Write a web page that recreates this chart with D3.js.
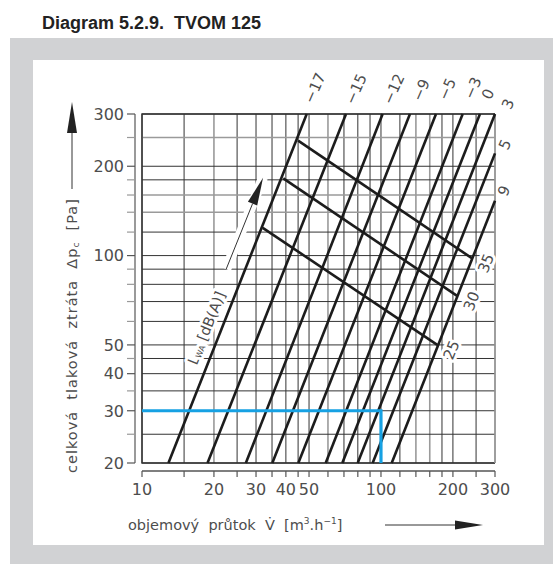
<!DOCTYPE html>
<meta charset="utf-8">
<style>
    body { margin: 0; background: #fff; }
    svg text { font-family: 'DejaVu Sans', sans-serif; fill: #4d4d4d; }
    .title { font-family: 'Liberation Sans', Arial, sans-serif; font-weight: bold; font-size: 18px; fill: #222; white-space: pre; }
    .tick { font-size: 16px; }
    .axisTitle { font-size: 14.5px; white-space: pre; }
    .yTitle { letter-spacing: 1px; }
    .lineLabel { font-size: 15px; }
    .halo { paint-order: stroke; stroke: #fff; stroke-width: 6px; stroke-linejoin: round; }
</style>
<svg width="553" height="564"></svg>
<script src="https://d3js.org/d3.v7.min.js"></script>
<script>

    // grid values and tick labels
    var xGrid = [10, 15, 20, 25, 30, 35, 40, 45, 50, 60, 70, 80, 90, 100, 120, 140, 160, 180, 200, 250, 300];
    var yGrid = [20, 25, 30, 35, 40, 45, 50, 60, 70, 80, 90, 100, 120, 140, 160, 180, 200, 250, 300];
    var xTicks = [10, 20, 30, 40, 50, 100, 200, 300];
    var yTicks = [20, 30, 40, 50, 100, 200, 300];
    var xGray = [20, 60, 140, 160, 300];
    var yGray = [140, 160, 250];

    // damper position lines: start at 20 Pa, end at top or right edge
    var positions = ["−17", "−15", "−12", "−9", "−5", "−3", "0", "3", "5", "9"];
    var posStartV = [12.9, 18.8, 27.2, 35.1, 45.1, 58.7, 68.9, 79.9, 92.3, 110.9];
    var posStartP = [20, 20, 20, 20, 20, 20, 20, 20, 20, 20];
    var posEndV = [48.9, 71.4, 101.6, 132.2, 169.9, 219.7, 259.5, 300, 300, 300];
    var posEndP = [300, 300, 300, 300, 300, 300, 300, 300, 221, 153];

    // sound power level lines L_WA
    var lwa = ["25", "30", "35"];
    var lwaStartV = [32, 39, 45];
    var lwaStartP = [124, 182, 244];
    var lwaEndV = [172, 209, 240];
    var lwaEndP = [50, 73, 98];

    // example operating point
    var opV = 100;
    var opP = 30;

    var svg = d3.select("svg");

    var x = d3.scaleLog().domain([10, 300]).range([142, 495]);
    var y = d3.scaleLog().domain([20, 300]).range([463, 114]);

    // frame
    svg.append("rect").attr("x", 10).attr("y", 38).attr("width", 543).attr("height", 526).attr("fill", "#d1d2d4");
    svg.append("rect").attr("x", 33).attr("y", 60).attr("width", 511).attr("height", 485).attr("fill", "#fff");

    svg.append("text")
        .attr("class", "title")
        .attr("x", 42)
        .attr("y", 29)
        .text("Diagram 5.2.9.  TVOM 125");

    // grid
    var grid = svg.append("g");
    grid.selectAll(".vg").data(xGrid).enter().append("line")
        .attr("x1", function (d) { return x(d); })
        .attr("x2", function (d) { return x(d); })
        .attr("y1", y(20)).attr("y2", y(300))
        .attr("stroke", function (d) { return xGray.indexOf(d) >= 0 ? "#9a9a9a" : "#333"; })
        .attr("stroke-width", function (d) { return xGray.indexOf(d) >= 0 ? 1.6 : 1; });
    grid.selectAll(".hg").data(yGrid).enter().append("line")
        .attr("y1", function (d) { return y(d); })
        .attr("y2", function (d) { return y(d); })
        .attr("x1", x(10)).attr("x2", x(300))
        .attr("stroke", function (d) { return yGray.indexOf(d) >= 0 ? "#9a9a9a" : "#333"; })
        .attr("stroke-width", function (d) { return yGray.indexOf(d) >= 0 ? 1.6 : 1; });

    // plot border
    svg.append("path")
        .attr("d", "M" + x(300) + "," + y(300) + "H" + x(10) + "V" + y(20) + "H" + x(300))
        .attr("fill", "none").attr("stroke", "#333").attr("stroke-width", 1.4);
    svg.append("line")
        .attr("x1", x(300)).attr("x2", x(300)).attr("y1", y(300)).attr("y2", y(20))
        .attr("stroke", "#9a9a9a").attr("stroke-width", 1.6);

    // y axis
    var yAxisX = x(10) - 7;
    svg.append("line")
        .attr("x1", yAxisX).attr("x2", yAxisX).attr("y1", y(300)).attr("y2", y(20))
        .attr("stroke", "#9a9a9a").attr("stroke-width", 2);
    svg.selectAll(".yt").data(yGrid).enter().append("line")
        .attr("x1", yAxisX - 8).attr("x2", yAxisX)
        .attr("y1", function (d) { return y(d); })
        .attr("y2", function (d) { return y(d); })
        .attr("stroke", function (d) { return yTicks.indexOf(d) >= 0 ? "#555" : "#999"; })
        .attr("stroke-width", 1.2);
    svg.selectAll(".ytl").data(yTicks).enter().append("text")
        .attr("class", "tick")
        .attr("x", yAxisX - 11)
        .attr("y", function (d) { return y(d); })
        .attr("dy", "0.36em")
        .attr("text-anchor", "end")
        .text(function (d) { return d; });

    // x axis
    var xAxisY = y(20) + 8;
    svg.append("line")
        .attr("x1", x(10)).attr("x2", x(300)).attr("y1", xAxisY).attr("y2", xAxisY)
        .attr("stroke", "#555").attr("stroke-width", 1.4);
    svg.selectAll(".xt").data(xGrid).enter().append("line")
        .attr("x1", function (d) { return x(d); })
        .attr("x2", function (d) { return x(d); })
        .attr("y1", xAxisY).attr("y2", xAxisY + 6)
        .attr("stroke", "#555").attr("stroke-width", 1.2);
    svg.selectAll(".xtl").data(xTicks).enter().append("text")
        .attr("class", "tick")
        .attr("x", function (d) { return x(d); })
        .attr("y", xAxisY + 24)
        .attr("text-anchor", "middle")
        .text(function (d) { return d; });

    // axis titles with arrows
    var yt = svg.append("text")
        .attr("class", "axisTitle yTitle")
        .attr("transform", "translate(77,473)rotate(-90)");
    yt.append("tspan").text("celková  tlaková  ztráta  Δp");
    yt.append("tspan").attr("font-size", "9px").attr("dy", "2").text("c");
    yt.append("tspan").attr("dy", "-2").text("  [Pa]");

    svg.append("line").attr("x1", 72).attr("x2", 72).attr("y1", 189).attr("y2", 125)
        .attr("stroke", "#333").attr("stroke-width", 1);
    svg.append("path").attr("d", "M72,102L77,133L67,133Z").attr("fill", "#222");

    var xt = svg.append("text")
        .attr("class", "axisTitle")
        .attr("x", 128)
        .attr("y", 530);
    xt.append("tspan").text("objemový  průtok  V̇  [m");
    xt.append("tspan").attr("font-size", "9px").attr("dy", "-6").text("3");
    xt.append("tspan").attr("dy", "6").text(".h");
    xt.append("tspan").attr("font-size", "9px").attr("dy", "-6").text("−1");
    xt.append("tspan").attr("dy", "6").text("]");

    svg.append("line").attr("x1", 385).attr("x2", 460).attr("y1", 525).attr("y2", 525)
        .attr("stroke", "#333").attr("stroke-width", 1);
    svg.append("path").attr("d", "M483,525L455,520.5L455,529.5Z").attr("fill", "#222");

    // L_WA arrow and label (drawn with white halo over the grid)
    var arrowFrom = [22.5, 90], arrowTo = [32.1, 183];
    var ax0 = x(arrowFrom[0]), ay0 = y(arrowFrom[1]), ax1 = x(arrowTo[0]), ay1 = y(arrowTo[1]);
    var ang = Math.atan2(ay1 - ay0, ax1 - ax0);
    var angDeg = ang * 180 / Math.PI;
    var headLen = 28, headW = 5;
    var bx = ax1 - headLen * Math.cos(ang), by = ay1 - headLen * Math.sin(ang);
    svg.append("line").attr("x1", ax0).attr("y1", ay0).attr("x2", ax1).attr("y2", ay1)
        .attr("stroke", "#fff").attr("stroke-width", 10);
    svg.append("line").attr("x1", ax0).attr("y1", ay0).attr("x2", bx).attr("y2", by)
        .attr("stroke", "#333").attr("stroke-width", 1);
    svg.append("path")
        .attr("d", "M" + ax1 + "," + ay1 +
            "L" + (bx + headW * Math.sin(ang)) + "," + (by - headW * Math.cos(ang)) +
            "L" + (bx - headW * Math.sin(ang)) + "," + (by + headW * Math.cos(ang)) + "Z")
        .attr("fill", "#222");

    var lwaLabel = svg.append("text")
        .attr("class", "axisTitle halo")
        .attr("text-anchor", "middle")
        .attr("transform", "translate(" + x(18.6) + "," + y(57) + ")rotate(" + angDeg + ")")
        .attr("dy", "0.35em");
    lwaLabel.append("tspan").text("L");
    lwaLabel.append("tspan").attr("font-size", "8px").attr("dy", "1").text("WA");
    lwaLabel.append("tspan").attr("dy", "-1").text(" [dB(A)]");

    // damper lines
    var line = d3.line()
        .x(function (d) { return x(d[0]); })
        .y(function (d) { return y(d[1]); });

    var posData = positions.map(function (name, i) {
        return { name: name, pts: [[posStartV[i], posStartP[i]], [posEndV[i], posEndP[i]]] };
    });
    var lwaData = lwa.map(function (name, i) {
        return { name: name, pts: [[lwaStartV[i], lwaStartP[i]], [lwaEndV[i], lwaEndP[i]]] };
    });

    svg.selectAll(".pos").data(posData).enter().append("path")
        .attr("d", function (d) { return line(d.pts); })
        .attr("fill", "none").attr("stroke", "#1c1c1c").attr("stroke-width", 2.6);

    svg.selectAll(".lwa").data(lwaData).enter().append("path")
        .attr("d", function (d) { return line(d.pts); })
        .attr("fill", "none").attr("stroke", "#1c1c1c").attr("stroke-width", 2.6);

    // operating point
    svg.append("path")
        .attr("d", line([[10, opP], [opV, opP], [opV, 20]]))
        .attr("fill", "none").attr("stroke", "#16a1e3").attr("stroke-width", 3.2);

    // labels for lines (pixel offsets from line end)
    var posOff = [[8, -26], [10, -25], [11, -25], [11, -24], [11, -25], [10, -26], [8, -20], [13, -10], [10, -9], [9, -10]];
    svg.selectAll(".posl").data(posData).enter().append("text")
        .attr("class", "lineLabel")
        .attr("text-anchor", "middle")
        .attr("dy", "0.35em")
        .attr("transform", function (d, i) {
            var e = d.pts[1];
            return "translate(" + (x(e[0]) + posOff[i][0]) + "," + (y(e[1]) + posOff[i][1]) + ")rotate(-66)";
        })
        .text(function (d) { return d.name; });

    svg.selectAll(".lwal").data(lwaData).enter().append("text")
        .attr("class", "lineLabel halo")
        .attr("text-anchor", "middle")
        .attr("dy", "0.35em")
        .attr("transform", function (d) {
            var e = d.pts[1];
            return "translate(" + (x(e[0]) + 14) + "," + (y(e[1]) + 5) + ")rotate(-68)";
        })
        .text(function (d) { return d.name; });
</script>
